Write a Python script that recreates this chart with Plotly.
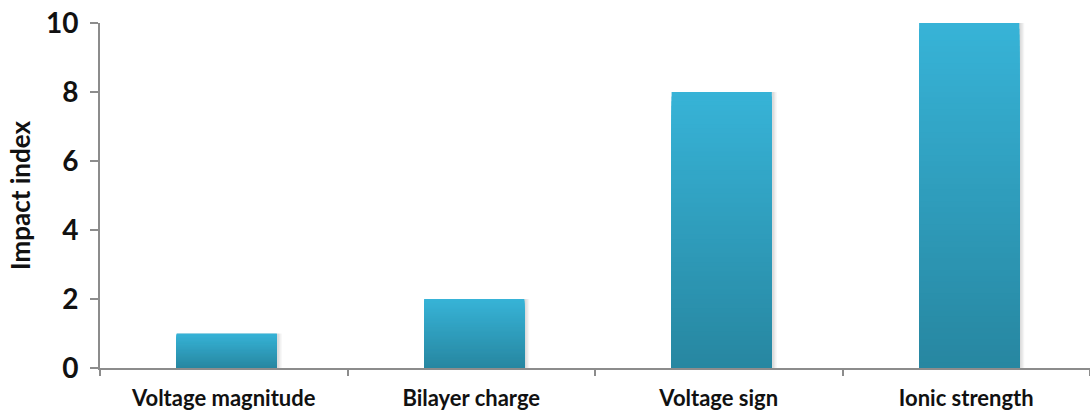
import plotly.graph_objects as go

# Data
categories = ["Voltage magnitude", "Bilayer charge", "Voltage sign", "Ionic strength"]
impact = [1, 2, 8, 10]
y_ticks = [0, 2, 4, 6, 8, 10]

# Vertical gradient for the bars: light at top, darker at the base
TOP = (0x37, 0xB3, 0xD7)
BOTTOM = (0x27, 0x87, 0xA1)
STEPS = 60
BAR_WIDTH = 0.405
SHIFT = 0.012

def mix(t):
    r, g, b = (round(TOP[i] + (BOTTOM[i] - TOP[i]) * t) for i in range(3))
    return f"rgb({r},{g},{b})"

fig = go.Figure()

# soft drop shadow to the right/bottom of each bar
for k, alpha in enumerate([0.05, 0.05, 0.04]):
    fig.add_trace(go.Bar(
        x=categories, y=impact, width=BAR_WIDTH + 0.006 * (k + 1),
        offset=-BAR_WIDTH / 2 + SHIFT + 0.002,
        marker=dict(color=f"rgba(0,0,0,{alpha})", line=dict(width=0)),
        hoverinfo="skip", showlegend=False,
    ))

# overlaid bars of shrinking height build up the gradient
for k in range(STEPS):
    frac = (STEPS - k) / STEPS
    fig.add_trace(go.Bar(
        x=categories, y=[v * frac for v in impact], width=BAR_WIDTH,
        offset=-BAR_WIDTH / 2 + SHIFT,
        marker=dict(color=mix(k / (STEPS - 1)), line=dict(width=0)),
        hoverinfo="skip" if k else None, showlegend=False,
    ))

font_family = "Lato, 'Open Sans', sans-serif"

fig.update_layout(
    barmode="overlay",
    width=1090, height=413,
    margin=dict(l=100, r=0, t=23, b=45),
    plot_bgcolor="white", paper_bgcolor="white",
    font=dict(family=font_family, color="#111111"),
    xaxis=dict(
        showline=True, linecolor="#8c8c8c", linewidth=2,
        ticks="outside", tickson="boundaries", ticklen=6, tickcolor="#8c8c8c", tickwidth=2,
        tickfont=dict(size=22, family=font_family, weight="bold"),
        ticklabelstandoff=10,
        showgrid=False, zeroline=False,
    ),
    yaxis=dict(
        range=[0, 10], tickvals=y_ticks,
        showline=True, linecolor="#8c8c8c", linewidth=2,
        ticks="outside", ticklen=8, tickcolor="#8c8c8c", tickwidth=2,
        tickfont=dict(size=28, family=font_family, weight="bold"),
        ticklabelstandoff=6,
        showgrid=False, zeroline=False,
        title=dict(text="Impact index", font=dict(size=26, family=font_family, weight="bold"),
                   standoff=8),
    ),
)

fig.write_html("out.html")
